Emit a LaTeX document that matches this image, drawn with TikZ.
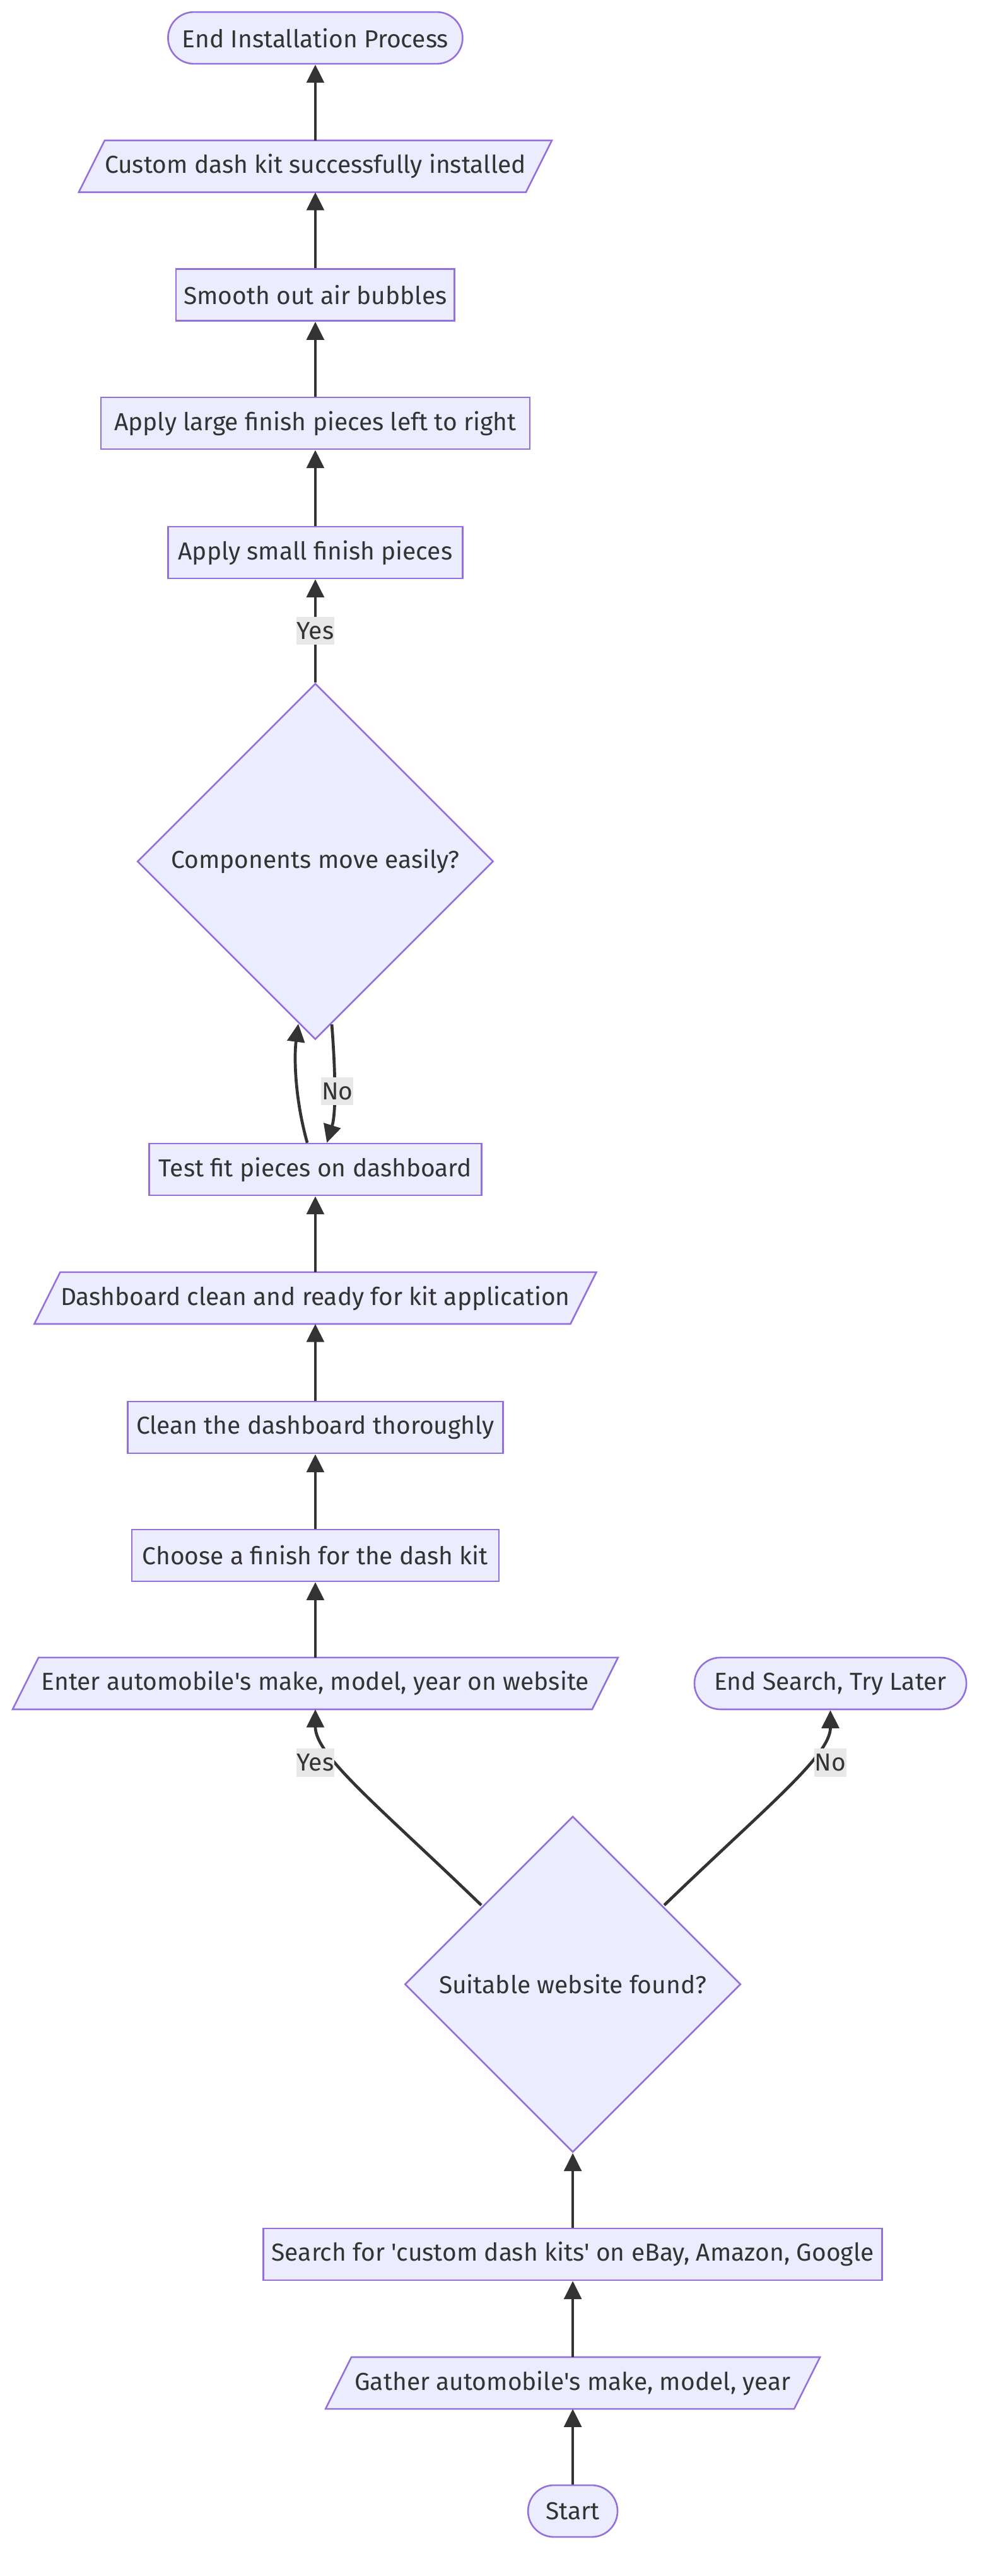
\documentclass[tikz,border=0pt]{standalone}
\usepackage{fontspec}
\setmainfont{Fira Sans}
\usetikzlibrary{shapes.geometric,arrows.meta}
\definecolor{nodefill}{HTML}{ECECFF}
\definecolor{nodeline}{HTML}{9370DB}
\definecolor{edgecol}{HTML}{333333}
\definecolor{txtcol}{HTML}{333333}
\definecolor{lblbg}{HTML}{E8E8E8}
\newcommand{\strq}{\textquotesingle}
\pgfdeclarelayer{bg}
\pgfsetlayers{bg,main}
\begin{document}
\begin{tikzpicture}[x=1pt,y=-1pt,
  base/.style={text=txtcol, font=\fontsize{14.9}{18}\selectfont, inner sep=0pt, minimum height=31.4pt},
  shapeline/.style={draw=nodeline, fill=nodefill, line width=1pt},
  procbox/.style={base, shapeline, rectangle},
  termbox/.style={base, shapeline, rectangle, rounded corners=15.7pt},
  iobox/.style={base, rectangle, outer sep=0pt},
  decbox/.style={base, shapeline, diamond, aspect=1},
  flow/.style={draw=edgecol, line width=1.8pt, -{Triangle[length=11pt,width=10.5pt]}},
  lbl/.style={fill=lblbg, text=txtcol, font=\fontsize{14.9}{18}\selectfont, inner xsep=0.3pt, inner ysep=0pt, minimum height=17pt}]
\useasboundingbox (0,0) rectangle (600,1562.8);

\node[termbox, minimum width=178.7pt] (endi) at (191.3,23) {End Installation Process};
\node[iobox, minimum width=271.3pt] (kit) at (191.3,100.9) {Custom dash kit successfully installed};
\node[procbox, minimum width=169pt] (smooth) at (191.3,179) {Smooth out air bubbles};
\node[procbox, minimum width=260.2pt] (large) at (191.3,256.8) {Apply large finish pieces left to right};
\node[procbox, minimum width=178.7pt] (small) at (191.3,335.2) {Apply small finish pieces};
\node[decbox, minimum width=216pt, minimum height=216pt] (comp) at (191.3,522.6) {Components move easily?};
\node[procbox, minimum width=201.7pt] (test) at (191.3,709.5) {Test fit pieces on dashboard};
\node[iobox, minimum width=325.3pt] (ready) at (191.3,787.5) {Dashboard clean and ready for kit application};
\node[procbox, minimum width=227.7pt] (clean) at (191.3,866) {Clean the dashboard thoroughly};
\node[procbox, minimum width=222.7pt] (finish) at (191.3,943.6) {Choose a finish for the dash kit};
\node[iobox, minimum width=351.6pt] (enter) at (191.3,1021.3) {Enter automobile\strq s make, model, year on website};
\node[termbox, minimum width=165pt] (endsearch) at (503.8,1021.3) {End Search, Try Later};
\node[decbox, minimum width=203.8pt, minimum height=203.8pt] (found) at (347.5,1203.8) {Suitable website found?};
\node[procbox, minimum width=375.4pt] (search) at (347.5,1367.6) {Search for \strq custom dash kits\strq{} on eBay, Amazon, Google};
\node[iobox, minimum width=284.3pt] (gather) at (347.5,1445.7) {Gather automobile\strq s make, model, year};
\node[termbox, minimum width=54.3pt] (start) at (347.5,1523.4) {Start};

\begin{pgfonlayer}{bg}
\foreach \n in {kit,ready,enter,gather}
  \draw[shapeline] ([xshift=-7.85pt]\n.south west) -- ([xshift=7.85pt]\n.north west) -- ([xshift=7.85pt]\n.north east) -- ([xshift=-7.85pt]\n.south east) -- cycle;
\end{pgfonlayer}

\draw[flow] (kit.north) -- (endi.south);
\draw[flow] (smooth.north) -- (kit.south);
\draw[flow] (large.north) -- (smooth.south);
\draw[flow] (small.north) -- (large.south);
\draw[flow] (comp.north) -- node[lbl] (yes1) {Yes} (small.south);
\draw[flow] ([xshift=-4.9pt]test.north) .. controls (178.5,665) and (178.5,640) .. ([xshift=-10.3pt,yshift=10pt]comp.south);
\draw[flow] ([xshift=10pt,yshift=9.6pt]comp.south) .. controls (203.5,650) and (204,675) .. ([xshift=7pt]test.north);
\node[lbl] (no1) at (204.7,662) {No};
\draw[flow] (ready.north) -- (test.south);
\draw[flow] (clean.north) -- (ready.south);
\draw[flow] (finish.north) -- (clean.south);
\draw[flow] (enter.north) -- (finish.south);
\draw[flow] ([xshift=-55.5pt,yshift=48pt]found.center) .. controls (230,1096) and (191.3,1065) .. (enter.south);
\draw[flow] ([xshift=55.5pt,yshift=48pt]found.center) .. controls (465,1096) and (503.8,1065) .. (endsearch.south);
\node[lbl] (yes2) at (191.3,1069.3) {Yes};
\node[lbl] (no2) at (503.8,1069.3) {No};
\draw[flow] (search.north) -- (found.south);
\draw[flow] (gather.north) -- (search.south);
\draw[flow] (start.north) -- (gather.south);
\end{tikzpicture}
\end{document}
